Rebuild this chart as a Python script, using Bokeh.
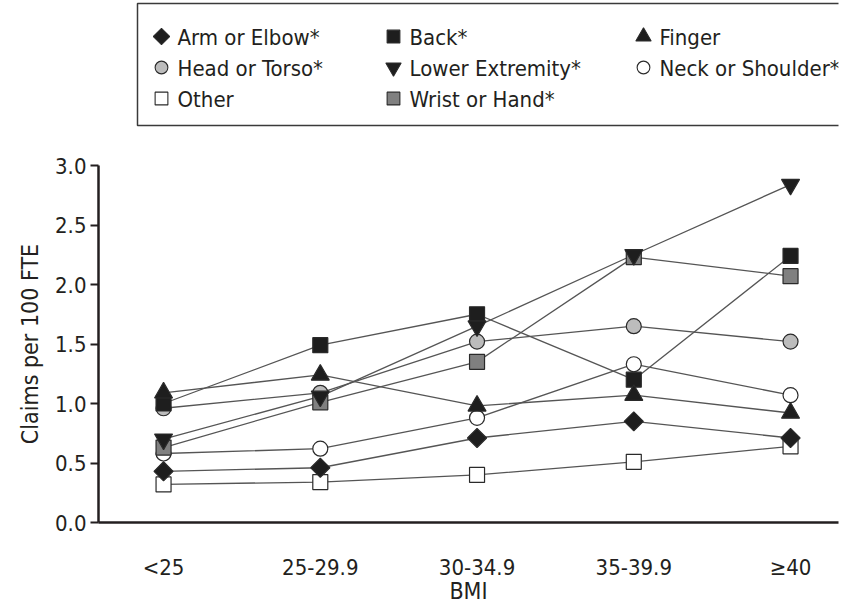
import math
from bokeh.plotting import figure
from bokeh.layouts import column
from bokeh.models import Range1d, FixedTicker, Label
from bokeh.core.properties import value
from bokeh.embed import file_html
from bokeh.resources import INLINE

# BMI categories on the x axis
bmi_groups = ["<25", "25-29.9", "30-34.9", "35-39.9", "\u226540"]

# Claims per 100 FTE by body part
arm_elbow = [0.43, 0.46, 0.71, 0.85, 0.71]
back = [1.00, 1.49, 1.75, 1.20, 2.24]
finger = [1.09, 1.24, 0.98, 1.07, 0.92]
head_torso = [0.96, 1.09, 1.52, 1.65, 1.52]
lower_extremity = [0.70, 1.06, 1.65, 2.25, 2.84]
neck_shoulder = [0.58, 0.62, 0.88, 1.33, 1.07]
other = [0.32, 0.34, 0.40, 0.51, 0.64]
wrist_hand = [0.63, 1.01, 1.35, 2.23, 2.07]

y_ticks = [0.0, 0.5, 1.0, 1.5, 2.0, 2.5, 3.0]

FONT = "DejaVu Sans Condensed"
INK = "#231f20"
BLACK = "#1e1e1e"
EDGE = "#2a2a2a"

# name, values, marker, fill, plot size, angle
series = [
    ("Arm or Elbow*", arm_elbow, "square", BLACK, 13.5, math.pi / 4),
    ("Back*", back, "square", BLACK, 15, 0.0),
    ("Finger", finger, "triangle", BLACK, 18, 0.0),
    ("Head or Torso*", head_torso, "circle", "#bcbcbc", 15, 0.0),
    ("Lower Extremity*", lower_extremity, "inverted_triangle", BLACK, 18, 0.0),
    ("Neck or Shoulder*", neck_shoulder, "circle", "#ffffff", 15, 0.0),
    ("Other", other, "square", "#ffffff", 15, 0.0),
    ("Wrist or Hand*", wrist_hand, "square", "#808080", 15, 0.0),
]

# markers stacked so the overlaps read the same way as in print
draw_order = ["Other", "Neck or Shoulder*", "Head or Torso*", "Wrist or Hand*",
              "Back*", "Arm or Elbow*", "Lower Extremity*", "Finger"]

LEFT, RIGHT = 98, 5

# ---------------- legend panel ----------------
# frame spans the same pixels as the chart frame below, so data units = pixels
leg = figure(width=843, height=140, output_backend="svg", toolbar_location=None,
             x_range=Range1d(LEFT, 843 - RIGHT), y_range=Range1d(140, 0),
             min_border_left=LEFT, min_border_right=RIGHT,
             min_border_top=0, min_border_bottom=0)
leg.axis.visible = False
leg.grid.visible = False
leg.outline_line_color = None
leg.background_fill_color = "white"

leg.quad(left=[137], right=[900], top=[3], bottom=[125],
         fill_color=None, line_color="#3a3a3a", line_width=1.5)

col_x = [161, 393, 643]
row_y = [36, 67, 98]
for i, (name, vals, marker, fill, size, angle) in enumerate(series):
    cx = col_x[i % 3]
    cy = row_y[i // 3]
    leg.scatter([cx], [cy], marker=marker, size=size * 0.85, angle=angle,
                fill_color=fill, line_color=EDGE, line_width=1.1)
    # labels are annotations so the last column is not cut at the frame edge
    leg.add_layout(Label(x=cx + 16, y=cy + 1, text=name, text_font=FONT,
                         text_font_size="22px", text_color=INK,
                         text_baseline="middle", text_align="left"))

# ---------------- main chart ----------------
xs = list(range(len(bmi_groups)))

p = figure(width=843, height=466, output_backend="svg", toolbar_location=None,
           x_range=Range1d(-0.415, 4.306), y_range=Range1d(0, 3.0),
           min_border_left=LEFT, min_border_right=RIGHT,
           min_border_top=25, min_border_bottom=75)
p.grid.visible = False
p.outline_line_color = None
p.background_fill_color = "white"

for name, vals, marker, fill, size, angle in series:
    p.line(xs, vals, line_color="#555555", line_width=1.3)

lookup = {s[0]: s for s in series}
for name in draw_order:
    _, vals, marker, fill, size, angle = lookup[name]
    p.scatter(xs, vals, marker=marker, size=size, angle=angle,
              fill_color=fill, line_color=EDGE, line_width=1.2)

# y axis
p.yaxis.ticker = FixedTicker(ticks=y_ticks)
p.yaxis.major_label_overrides = {t: f"{t:.1f}" for t in y_ticks}
p.yaxis.axis_label = "Claims per 100 FTE"
p.yaxis.axis_line_width = 2.5
p.yaxis.axis_line_color = INK
p.yaxis.major_tick_line_width = 2
p.yaxis.major_tick_line_color = INK
p.yaxis.major_tick_out = 8
p.yaxis.major_tick_in = 0
p.yaxis.minor_tick_line_color = None
p.yaxis.major_label_standoff = 4
p.yaxis.axis_label_standoff = 9

# x axis
p.xaxis.ticker = FixedTicker(ticks=xs)
p.xaxis.major_label_overrides = {i: g for i, g in enumerate(bmi_groups)}
p.xaxis.axis_label = "BMI"
p.xaxis.axis_line_width = 2.5
p.xaxis.axis_line_color = INK
p.xaxis.major_tick_line_color = None
p.xaxis.major_tick_out = 0
p.xaxis.major_tick_in = 0
p.xaxis.minor_tick_line_color = None
p.xaxis.major_label_standoff = 32
p.xaxis.axis_label_standoff = -5

for ax in (p.xaxis, p.yaxis):
    ax.major_label_text_font = FONT
    ax.major_label_text_font_size = "22px"
    ax.major_label_text_color = INK
    ax.axis_label_text_font = FONT
    ax.axis_label_text_font_size = "23px"
    ax.axis_label_text_font_style = "normal"
    ax.axis_label_text_color = INK

layout = column(leg, p, spacing=0)
open("out.html", "w").write(file_html(layout, INLINE))
